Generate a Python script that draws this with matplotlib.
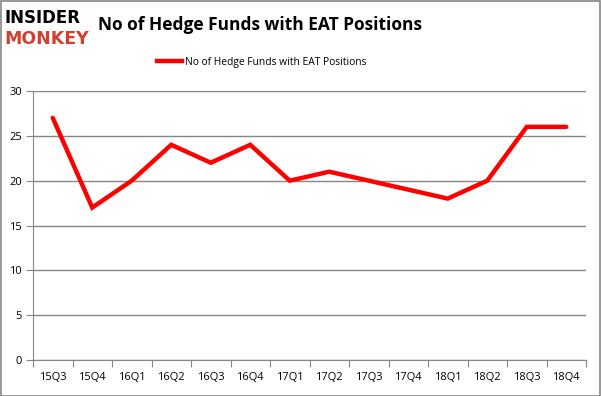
import matplotlib
matplotlib.use("Agg")
import matplotlib.pyplot as plt
from matplotlib.lines import Line2D
from matplotlib.patches import Rectangle

quarters = ['15Q3', '15Q4', '16Q1', '16Q2', '16Q3', '16Q4', '17Q1',
            '17Q2', '17Q3', '17Q4', '18Q1', '18Q2', '18Q3', '18Q4']
funds = [27, 17, 20, 24, 22, 24, 20, 21, 20, 19, 18, 20, 26, 26]
yticks = [0, 5, 10, 15, 20, 25, 30]

plt.rcParams['font.family'] = ['Open Sans', 'DejaVu Sans']

fig = plt.figure(figsize=(6.01, 3.96), dpi=100)
ax = fig.add_axes([33/601, 36/396, 553/601, 269/396])

x = list(range(len(quarters)))
ax.plot(x, funds, color='#ff0000', lw=3.2, solid_capstyle='round', solid_joinstyle='miter')

ax.set_xlim(-0.5, len(quarters) - 0.5)
ax.set_ylim(0, 30)
ax.set_yticks(yticks)
ax.set_xticks([i - 0.5 for i in range(len(quarters) + 1)])
ax.set_xticklabels([])
ax.set_xticks(x, minor=True)
ax.set_xticklabels(quarters, minor=True)
ax.tick_params(axis='x', which='minor', length=0, pad=9, labelsize=8)
ax.tick_params(axis='x', which='major', length=5, color='#868686', direction='out')
ax.tick_params(axis='y', length=5, color='#868686', labelsize=8, pad=3)
ax.grid(axis='y', color='#868686', lw=1)
ax.set_axisbelow(True)
for s in ['top', 'right']:
    ax.spines[s].set_visible(False)
for s in ['left', 'bottom']:
    ax.spines[s].set_color('#868686')

fig.text(98/601, 1 - 25/396, 'No of Hedge Funds with EAT Positions',
         fontsize=12.5, fontweight='bold', va='center', ha='left')
handle = Line2D([], [], color='#ff0000', lw=3.2)
fig.legend([handle], ['No of Hedge Funds with EAT Positions'], loc='center',
           bbox_to_anchor=(262/601, 1 - 62/396), frameon=False, fontsize=7.4,
           handlelength=2.4, handletextpad=0.3)

fig.text(5/601, 1 - 18/396, 'INSIDER', fontsize=12, fontweight='heavy',
         color='black', va='center', ha='left', family='DejaVu Sans')
fig.text(4/601, 1 - 39/396, 'MONKEY', fontsize=12.5, fontweight='heavy',
         color='#d04030', va='center', ha='left', family='DejaVu Sans')

fig.add_artist(Rectangle((0.5/601, 0.5/396), 599.5/601, 394.5/396, transform=fig.transFigure,
                         fill=False, edgecolor='#868686', lw=1.2))

fig.savefig('out.png', dpi=100)
